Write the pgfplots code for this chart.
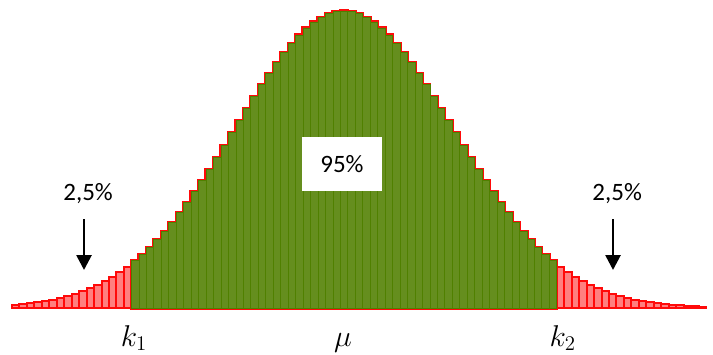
\documentclass[border=0pt]{standalone}
\usepackage{pgfplots}
\pgfplotsset{compat=1.18}
\usepackage{fontspec}
\setmainfont{Carlito}
\usetikzlibrary{arrows.meta}
\definecolor{redfill}{RGB}{255,128,128}
\definecolor{redline}{RGB}{255,10,10}
\definecolor{grfill}{RGB}{101,142,30}
\definecolor{grline}{RGB}{80,128,0}
\begin{document}
\begin{tikzpicture}
\useasboundingbox (-12pt,-46pt) rectangle (701pt,308pt);
\begin{axis}[
  width=694pt, height=297pt, scale only axis,
  xmin=-44.5, xmax=48.5, ymin=0, ymax=297,
  hide axis, clip=false,
  ybar, bar width=1,
]
% all bars (red)
\addplot[bar shift=0pt, fill=redfill, draw=redline, line width=2pt] coordinates {
(-44,3.2)(-43,3.9)(-42,4.7)(-41,5.8)(-40,7.0)(-39,8.4)(-38,10.0)(-37,12.0)(-36,14.2)(-35,16.8)
(-34,19.7)(-33,23.1)(-32,26.9)(-31,31.2)(-30,36.0)(-29,41.3)(-28,47.2)(-27,53.7)(-26,60.8)(-25,68.5)
(-24,76.9)(-23,85.9)(-22,95.4)(-21,105.6)(-20,116.2)(-19,127.4)(-18,138.9)(-17,150.8)(-16,162.9)(-15,175.2)
(-14,187.5)(-13,199.8)(-12,211.9)(-11,223.6)(-10,234.9)(-9,245.6)(-8,255.6)(-7,264.7)(-6,272.9)(-5,280.1)
(-4,286.1)(-3,290.8)(-2,294.2)(-1,296.3)(0,297)(1,296.3)(2,294.2)(3,290.8)(4,286.1)(5,280.1)
(6,272.9)(7,264.7)(8,255.6)(9,245.6)(10,234.9)(11,223.6)(12,211.9)(13,199.8)(14,187.5)(15,175.2)
(16,162.9)(17,150.8)(18,138.9)(19,127.4)(20,116.2)(21,105.6)(22,95.4)(23,85.9)(24,76.9)(25,68.5)
(26,60.8)(27,53.7)(28,47.2)(29,41.3)(30,36.0)(31,31.2)(32,26.9)(33,23.1)(34,19.7)(35,16.8)
(36,14.2)(37,12.0)(38,10.0)(39,8.4)(40,7.0)(41,5.8)(42,4.7)(43,3.9)(44,3.2)(45,2.6)
(46,2.1)(47,1.7)(48,1.3)
};
% red outline under the central bars
\addplot[bar shift=0pt, fill=redline, draw=redline, line width=3.2pt] coordinates {
(-28,47.2)(-27,53.7)(-26,60.8)(-25,68.5)
(-24,76.9)(-23,85.9)(-22,95.4)(-21,105.6)(-20,116.2)(-19,127.4)(-18,138.9)(-17,150.8)(-16,162.9)(-15,175.2)
(-14,187.5)(-13,199.8)(-12,211.9)(-11,223.6)(-10,234.9)(-9,245.6)(-8,255.6)(-7,264.7)(-6,272.9)(-5,280.1)
(-4,286.1)(-3,290.8)(-2,294.2)(-1,296.3)(0,297)(1,296.3)(2,294.2)(3,290.8)(4,286.1)(5,280.1)
(6,272.9)(7,264.7)(8,255.6)(9,245.6)(10,234.9)(11,223.6)(12,211.9)(13,199.8)(14,187.5)(15,175.2)
(16,162.9)(17,150.8)(18,138.9)(19,127.4)(20,116.2)(21,105.6)(22,95.4)(23,85.9)(24,76.9)(25,68.5)
(26,60.8)(27,53.7)(28,47.2)
};
% central 95% (green)
\addplot[bar shift=0pt, fill=grfill, draw=grline, line width=0.7pt] coordinates {
(-28,47.2)(-27,53.7)(-26,60.8)(-25,68.5)
(-24,76.9)(-23,85.9)(-22,95.4)(-21,105.6)(-20,116.2)(-19,127.4)(-18,138.9)(-17,150.8)(-16,162.9)(-15,175.2)
(-14,187.5)(-13,199.8)(-12,211.9)(-11,223.6)(-10,234.9)(-9,245.6)(-8,255.6)(-7,264.7)(-6,272.9)(-5,280.1)
(-4,286.1)(-3,290.8)(-2,294.2)(-1,296.3)(0,297)(1,296.3)(2,294.2)(3,290.8)(4,286.1)(5,280.1)
(6,272.9)(7,264.7)(8,255.6)(9,245.6)(10,234.9)(11,223.6)(12,211.9)(13,199.8)(14,187.5)(15,175.2)
(16,162.9)(17,150.8)(18,138.9)(19,127.4)(20,116.2)(21,105.6)(22,95.4)(23,85.9)(24,76.9)(25,68.5)
(26,60.8)(27,53.7)(28,47.2)
};
\node[fill=white, minimum width=80pt, minimum height=54pt, inner sep=0pt,
  font=\fontsize{25}{30}\selectfont] at (axis cs:-0.28,144) {95\%};
\node[font=\fontsize{25}{30}\selectfont] at (axis cs:-34.3,114) {2,5\%};
\node[font=\fontsize{25}{30}\selectfont] at (axis cs:36.6,114) {2,5\%};
\draw[line width=2.7pt, -{Triangle[width=15pt,length=15pt]}] (axis cs:-34.85,89) -- (axis cs:-34.85,38);
\draw[line width=2.7pt, -{Triangle[width=15pt,length=15pt]}] (axis cs:36.04,89) -- (axis cs:36.04,38);
\node[anchor=base, inner sep=0pt, font=\fontsize{20.74}{25}\selectfont] at (axis cs:-28.15,-38) {\scalebox{1.45}{$k_1$}};
\node[anchor=base, inner sep=0pt, font=\fontsize{20.74}{25}\selectfont] at (axis cs:-0.14,-38) {\scalebox{1.45}{$\mu$}};
\node[anchor=base, inner sep=0pt, font=\fontsize{20.74}{25}\selectfont] at (axis cs:29.3,-38) {\scalebox{1.45}{$k_2$}};
\end{axis}
\end{tikzpicture}
\end{document}
